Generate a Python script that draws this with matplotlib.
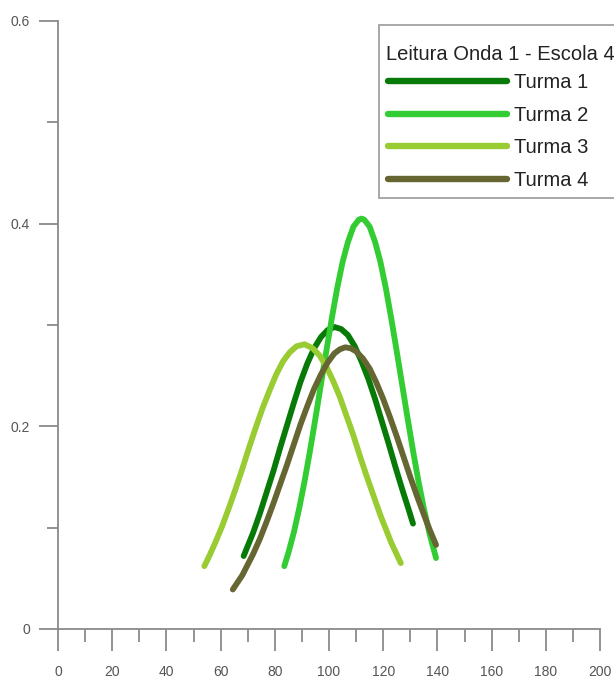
import matplotlib
matplotlib.use("Agg")
import matplotlib.pyplot as plt
from matplotlib.patches import Rectangle
from matplotlib.ticker import MultipleLocator

plt.rcParams["font.family"] = ["Liberation Sans", "DejaVu Sans"]

# curves read along each class's score distribution
turma1_x = [68.5, 72, 74.5, 77, 79.5, 82, 84.5, 87, 89.5, 92, 94.5, 97, 99.5,
            102, 104.5, 107, 109.5, 112, 114.5, 117, 119.5, 122, 124.5, 127,
            129.5, 131]
turma1_y = [0.072, 0.095, 0.114, 0.135, 0.156, 0.179, 0.201, 0.223, 0.244,
            0.262, 0.277, 0.288, 0.295, 0.298, 0.296, 0.290, 0.279, 0.264,
            0.247, 0.227, 0.205, 0.183, 0.160, 0.138, 0.117, 0.104]

turma2_x = [83.5, 85, 87, 89, 91, 93, 95, 97, 99, 101, 103, 105, 107, 109,
            111, 112, 113, 115, 117, 119, 121, 123, 125, 127, 129, 131, 133,
            135, 137, 139.5]
turma2_y = [0.062, 0.075, 0.095, 0.119, 0.146, 0.176, 0.208, 0.241, 0.274,
            0.306, 0.336, 0.362, 0.382, 0.397, 0.404, 0.405, 0.404, 0.397,
            0.382, 0.362, 0.336, 0.306, 0.274, 0.241, 0.208, 0.176, 0.146,
            0.119, 0.095, 0.070]

turma3_x = [54, 56, 58, 60.5, 63, 65.5, 68, 70.5, 73, 75.5, 78, 80.5, 83, 85.5,
            88, 91, 94, 96.5, 99, 101.5, 104, 106.5, 109, 111.5, 114, 116.5,
            119, 123, 126.5]
turma3_y = [0.062, 0.073, 0.085, 0.101, 0.119, 0.138, 0.158, 0.179, 0.199,
            0.218, 0.235, 0.251, 0.264, 0.273, 0.279, 0.281, 0.277, 0.270,
            0.259, 0.245, 0.229, 0.210, 0.191, 0.170, 0.150, 0.131, 0.112,
            0.085, 0.065]

turma4_x = [64.5, 68, 72, 74.5, 77, 79.5, 82, 84.5, 87, 89.5, 92, 94.5, 97,
            99.5, 102, 104, 106, 108, 110, 112.5, 115, 117.5, 120, 122.5, 125,
            127.5, 130, 132.5, 135, 137, 139.5]
turma4_y = [0.039, 0.053, 0.074, 0.089, 0.106, 0.124, 0.143, 0.162, 0.182,
            0.202, 0.220, 0.237, 0.251, 0.263, 0.272, 0.276, 0.278, 0.277,
            0.274, 0.267, 0.257, 0.243, 0.227, 0.209, 0.190, 0.170, 0.150,
            0.131, 0.113, 0.099, 0.083]

labels = ["Turma 1", "Turma 2", "Turma 3", "Turma 4"]
colors = ["#077a07", "#33cc33", "#99cc33", "#666633"]

x_ticks = [0, 20, 40, 60, 80, 100, 120, 140, 160, 180, 200]
y_ticks = [0, 0.2, 0.4, 0.6]
y_tick_labels = ["0", "0.2", "0.4", "0.6"]

fig = plt.figure(figsize=(6.14, 6.86), dpi=100)
ax = fig.add_axes([58 / 614, 57 / 686, 542 / 614, 608 / 686])

series = [(turma1_x, turma1_y), (turma2_x, turma2_y),
          (turma3_x, turma3_y), (turma4_x, turma4_y)]
handles = []
for (xs, ys), lab, col in zip(series, labels, colors):
    h, = ax.plot(xs, ys, color=col, lw=4.2, label=lab,
                 solid_capstyle="round", solid_joinstyle="round")
    handles.append(h)

ax.set_xlim(0, 200)
ax.set_ylim(0, 0.6)
ax.set_xticks(x_ticks)
ax.xaxis.set_minor_locator(MultipleLocator(10))
ax.set_yticks(y_ticks)
ax.set_yticklabels(y_tick_labels)
ax.yaxis.set_minor_locator(MultipleLocator(0.1))

axis_gray = "#8a8a8a"
for side in ["top", "right"]:
    ax.spines[side].set_visible(False)
for side in ["left", "bottom"]:
    ax.spines[side].set_color(axis_gray)
    ax.spines[side].set_linewidth(1.3)

ax.tick_params(axis="x", which="major", direction="out", length=16,
               width=1.3, color=axis_gray, labelsize=10,
               labelcolor="#555555", pad=10)
ax.tick_params(axis="x", which="minor", direction="out", length=9,
               width=1.3, color=axis_gray)
ax.tick_params(axis="y", which="major", direction="out", length=14,
               width=1.3, color=axis_gray, labelsize=10,
               labelcolor="#555555", pad=6)
ax.tick_params(axis="y", which="minor", direction="out", length=8,
               width=1.3, color=axis_gray)

# legend box drawn separately so it can run off the right edge
fig.add_artist(Rectangle((379 / 614, 1 - 198 / 686), 250 / 614, 173 / 686,
                         transform=fig.transFigure, facecolor="white",
                         edgecolor="#9a9a9a", lw=1.2, zorder=2))
fig.text(386 / 614, 1 - 55 / 686, "Leitura Onda 1 - Escola 4",
         fontsize=14.5, color="#222222", ha="left", va="center", zorder=3)
leg = fig.legend(handles, labels, loc="upper left",
                 bbox_to_anchor=(384 / 614, 1 - 69 / 686),
                 bbox_transform=fig.transFigure,
                 fontsize=14.5, handlelength=5.9, handletextpad=0.35,
                 labelspacing=0.68, borderpad=0.2, borderaxespad=0,
                 frameon=False)
leg.set_zorder(3)
for line in leg.get_lines():
    line.set_linewidth(4.6)
for txt in leg.get_texts():
    txt.set_color("#222222")

fig.savefig("out.png", dpi=100)
